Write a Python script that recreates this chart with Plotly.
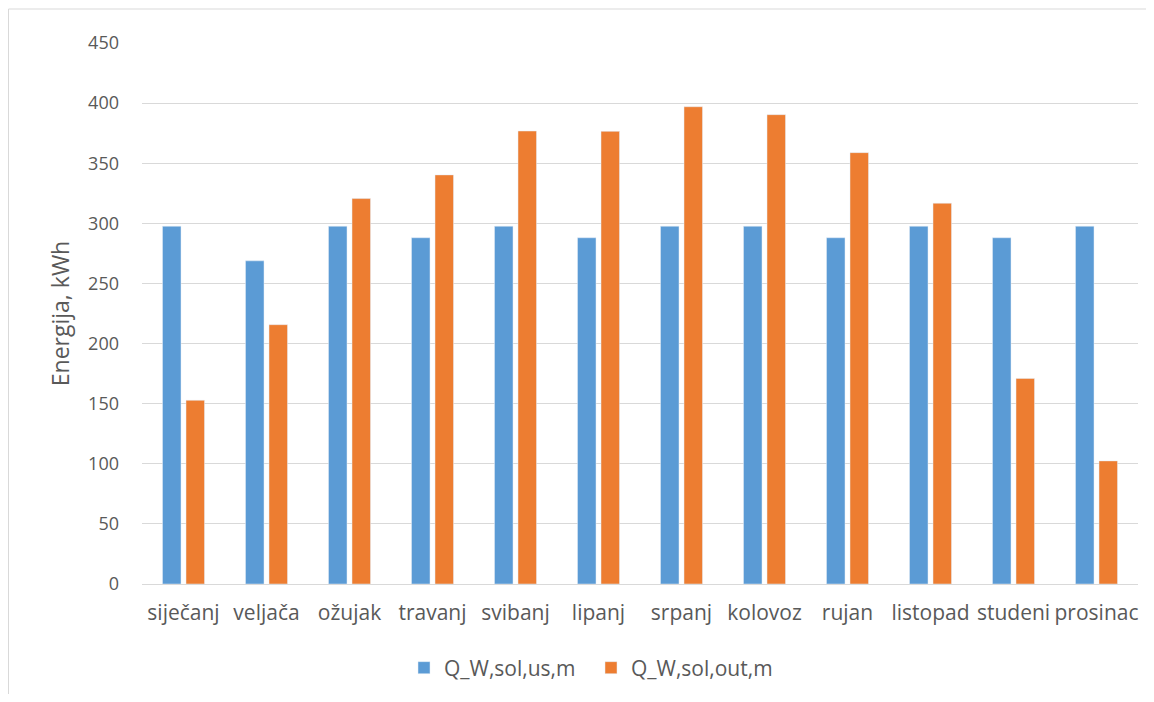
import plotly.graph_objects as go

months = ["siječanj", "veljača", "ožujak", "travanj", "svibanj", "lipanj",
          "srpanj", "kolovoz", "rujan", "listopad", "studeni", "prosinac"]
q_us = [297.6, 268.8, 297.6, 288.0, 297.6, 288.0, 297.6, 297.6, 288.0, 297.6, 288.0, 297.6]
q_out = [152.8, 215.7, 320.6, 340.3, 376.8, 376.5, 397.0, 390.4, 358.8, 316.7, 171.0, 102.4]
series_names = ["Q_W,sol,us,m", "Q_W,sol,out,m"]
y_ticks = [0, 50, 100, 150, 200, 250, 300, 350, 400, 450]

FONT = "Open Sans, Lato, sans-serif"
TXT = "#595959"

# page offset of 8px (body margin) is accounted for
W, H = 1138, 686
L, T = 134, 35
pw, ph = 996, 541
R = W - L - pw
B = H - T - ph


def px_x(X):
    return (X - L) / pw


def px_y(Y):
    return (T + ph - Y) / ph


fig = go.Figure()
fig.add_trace(go.Bar(x=months, y=q_us, name=series_names[0], marker_color="#5b9bd5"))
fig.add_trace(go.Bar(x=months, y=q_out, name=series_names[1], marker_color="#ed7d31"))

fig.update_layout(
    width=W, height=H,
    margin=dict(l=L, r=R, t=T, b=B, autoexpand=False),
    paper_bgcolor="white", plot_bgcolor="white",
    barmode="group", bargap=0.434, bargroupgap=0.213,
    font=dict(family=FONT, color=TXT, size=18),
    legend=dict(orientation="h", x=px_x(591 - 8), xanchor="center",
                y=px_y(668 - 8), yanchor="middle",
                font=dict(size=21, color=TXT), traceorder="normal",
                itemwidth=30, entrywidth=142),
    showlegend=True,
)
fig.update_xaxes(showgrid=False, showline=True, linecolor="#d9d9d9", linewidth=1,
                 ticks="", tickangle=0, automargin=False,
                 tickfont=dict(size=21, color=TXT), ticklabelstandoff=10)
fig.update_yaxes(range=[0, 450], tickvals=y_ticks, showgrid=True, gridcolor="#d9d9d9",
                 gridwidth=1, zeroline=False, showline=False, ticks="", automargin=False,
                 tickfont=dict(size=18, color=TXT), ticklabelstandoff=22,
                 title=dict(text="Energija, kWh", font=dict(size=23, color=TXT), standoff=12))

# outer chart border (top and left edges visible)
fig.add_shape(type="line", xref="paper", yref="paper",
              x0=px_x(0.5), x1=px_x(W), y0=px_y(1), y1=px_y(1),
              line=dict(color="#d9d9d9", width=1), layer="below")
fig.add_shape(type="line", xref="paper", yref="paper",
              x0=px_x(0.5), x1=px_x(0.5), y0=px_y(1), y1=px_y(H),
              line=dict(color="#d9d9d9", width=1), layer="below")

fig.write_html("out.html")
